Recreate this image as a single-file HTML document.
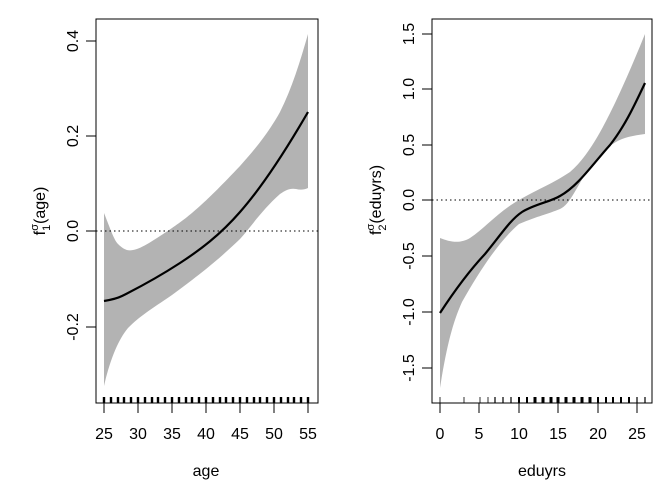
<!DOCTYPE html>
<html><head><style>body{margin:0;background:#fff}svg{display:block}text{font-family:"Liberation Sans",sans-serif;fill:#000}</style></head><body>
<svg width="672" height="480" viewBox="0 0 672 480" xmlns="http://www.w3.org/2000/svg">
<path d="M104,213 C110,228 114,240 118,244 C124,250 128,251 133,250 C140,249 150,243 172,228 C190,216 206,202 240,166 C258,146 270,130 280,112 C292,88 300,62 308,34 L308,188 C304,190 300,190 296,189 C290,188 286,190 280,194 C262,210 250,228 240,239 C220,258 206,270 172,295 C150,310 140,316 128,328 C118,340 110,360 104,386 Z" fill="#b3b3b3"/>
<path d="M104,301 C110,300 116,299 122,296 C140,287 160,276 180,263 C200,250 220,235 240,212 C262,187 286,150 308,112" fill="none" stroke="#000" stroke-width="2.2"/>
<line x1="96" y1="231" x2="318" y2="231" stroke="#000" stroke-dasharray="1.5,3"/>
<rect x="96" y="19" width="222" height="384" fill="none" stroke="#000"/>
<g stroke="#000" stroke-width="2.4">
<path d="M104,397V403M111,397V403M118,397V403M124,397V403M131,397V403M138,397V403M145,397V403M152,397V403M158,397V403M165,397V403M172,397V403M179,397V403M186,397V403M192,397V403M199,397V403M206,397V403M213,397V403M220,397V403M226,397V403M233,397V403M240,397V403M247,397V403M254,397V403M260,397V403M267,397V403M274,397V403M281,397V403M288,397V403M294,397V403M301,397V403M308,397V403"/>
</g>
<g stroke="#000">
<path d="M104,403V413M138,403V413M172,403V413M206,403V413M240,403V413M274,403V413M308,403V413"/>
<path d="M86,41H96M86,136H96M86,231H96M86,327H96"/>
</g>
<g font-size="16" text-anchor="middle">
<text x="104" y="439">25</text><text x="138" y="439">30</text><text x="172" y="439">35</text><text x="206" y="439">40</text><text x="240" y="439">45</text><text x="274" y="439">50</text><text x="308" y="439">55</text>
<text x="206" y="476">age</text>
<text transform="translate(78,41) rotate(-90)">0.4</text>
<text transform="translate(78,136) rotate(-90)">0.2</text>
<text transform="translate(78,231) rotate(-90)">0.0</text>
<text transform="translate(78,327) rotate(-90)">-0.2</text>
<text transform="translate(45,211) rotate(-90)">f<tspan font-size="11" dy="5">1</tspan><tspan font-size="11" dy="-12" dx="-6">σ</tspan><tspan dy="7">(age)</tspan></text>
</g>
<path d="M440,238 C450,242 460,244 470,238 C485,228 498,212 519,200 C540,188 552,184 570,172 C590,155 610,120 645,34 L645,134 C630,136 620,138 610,146 C600,154 593,164 588,170 C578,184 570,205 560,209 C548,214 538,216 519,224 C500,240 480,270 462,302 C452,324 446,350 440,388 Z" fill="#b3b3b3"/>
<path d="M440,313 C455,290 470,270 485,254 C500,236 510,220 522,212 C535,204 550,202 560,196 C578,186 592,165 610,145 C625,126 635,104 645,83" fill="none" stroke="#000" stroke-width="2.2"/>
<line x1="432" y1="200" x2="652" y2="200" stroke="#000" stroke-dasharray="1.5,3"/>
<rect x="432" y="19" width="220" height="384" fill="none" stroke="#000"/>
<g stroke="#000">
<path stroke-width="0.8" d="M440,397V403M464,397V403M480,397V403M488,397V403"/>
<path stroke-width="1.2" d="M495,397V403M503,397V403M511,397V403M645,397V403M637,397V403"/>
<path stroke-width="2" d="M519,397V403M527,397V403M598,397V403M606,397V403M613,397V403M621,397V403M629,397V403"/>
<path stroke-width="3" d="M535,397V403M543,397V403M551,397V403M558,397V403M566,397V403M574,397V403M582,397V403M590,397V403"/>
<path d="M440,403V413M479,403V413M519,403V413M558,403V413M598,403V413M637,403V413"/>
<path d="M422,34H432M422,89H432M422,145H432M422,200H432M422,256H432M422,312H432M422,368H432"/>
</g>
<g font-size="16" text-anchor="middle">
<text x="440" y="439">0</text><text x="479" y="439">5</text><text x="519" y="439">10</text><text x="558" y="439">15</text><text x="598" y="439">20</text><text x="637" y="439">25</text>
<text x="542" y="476">eduyrs</text>
<text transform="translate(414,34) rotate(-90)">1.5</text>
<text transform="translate(414,89) rotate(-90)">1.0</text>
<text transform="translate(414,145) rotate(-90)">0.5</text>
<text transform="translate(414,200) rotate(-90)">0.0</text>
<text transform="translate(414,256) rotate(-90)">-0.5</text>
<text transform="translate(414,312) rotate(-90)">-1.0</text>
<text transform="translate(414,368) rotate(-90)">-1.5</text>
<text transform="translate(381,200) rotate(-90)">f<tspan font-size="11" dy="5">2</tspan><tspan font-size="11" dy="-12" dx="-6">σ</tspan><tspan dy="7">(eduyrs)</tspan></text>
</g>
</svg>
</body></html>
